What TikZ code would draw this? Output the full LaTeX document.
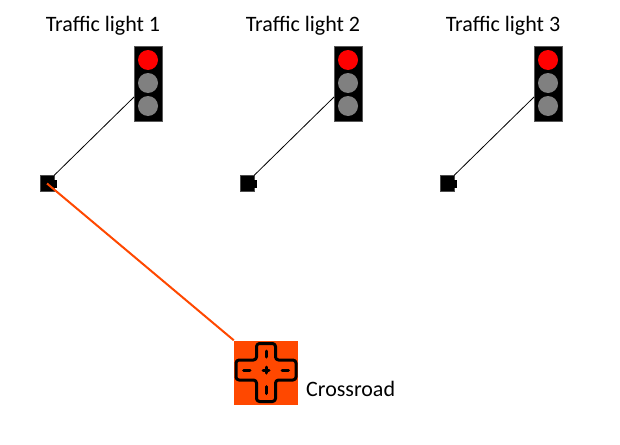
\documentclass[tikz,border=0pt]{standalone}
\usepackage{fontspec}
\setmainfont{Carlito}
\usetikzlibrary{calc}
\definecolor{crossorange}{RGB}{255,72,0}
\definecolor{lampgray}{RGB}{128,128,128}
\begin{document}
\begin{tikzpicture}[x=1pt,y=-1pt,
  title/.style={font=\fontsize{22}{24}\selectfont, inner sep=0pt, anchor=base},
  lightbox/.style={draw=gray!70!black, fill=black, line width=0.6pt, minimum width=28pt, minimum height=75pt, inner sep=0pt},
  lamp/.style={circle, minimum size=20pt, inner sep=0pt},
  sensor/.style={fill=black, draw=gray!60!black, line width=0.4pt, minimum width=14pt, minimum height=16pt, inner sep=0pt},
  wire/.style={black, line width=0.8pt},
  link/.style={crossorange, line width=2pt},
  crossicon/.style={fill=crossorange, minimum size=64pt, inner sep=0pt},
  crossline/.style={black, line width=3pt, line cap=round, line join=round}
]
\useasboundingbox (0,0) rectangle (620,444);

\foreach \i/\dx in {1/0,2/200,3/400}{
  \node[title] (t\i) at (103+\dx,31) {Traffic light \i};
  \node[lightbox] (tl\i) at (148+\dx,83.5) {};
  \node[lamp, fill=red] (r\i) at (148+\dx,60) {};
  \node[lamp, fill=lampgray] (ga\i) at (148+\dx,83) {};
  \node[lamp, fill=lampgray] (gb\i) at (148+\dx,106) {};
  \coordinate (w\i) at (134+\dx,97);
  \node[sensor] (s\i) at (47+\dx,183.5) {};
  \fill[black] ($(s\i.east)+(0,-4)$) rectangle ($(s\i.east)+(3,4)$);
  \draw[wire] (w\i) -- (s\i.north east);
}

\node[crossicon] (cr) at (266,372.5) {};
\draw[link] (s1.center) -- (cr.north west);
\node[title, anchor=base west] (crt) at (306,396) {Crossroad};

% cross shape
\begin{scope}[shift={(cr.center)}]
  \draw[crossline, rounded corners=3pt]
    (-9.5,-29) -- (9.5,-29) -- (9.5,-12.5) -- (30,-12.5) -- (30,7.5) -- (9.5,7.5)
    -- (9.5,29) -- (-9.5,29) -- (-9.5,7.5) -- (-30,7.5) -- (-30,-12.5) -- (-9.5,-12.5) -- cycle;
  \draw[crossline] (0,-21.5) -- (0,-15.5);
  \draw[crossline] (0,14) -- (0,21);
  \draw[crossline] (-22.5,-2.5) -- (-16,-2.5);
  \draw[crossline] (16,-2.5) -- (22.5,-2.5);
  \draw[crossline] (-3,-2.5) -- (3,-2.5);
  \draw[crossline] (0,-5.5) -- (0,0.5);
\end{scope}
\end{tikzpicture}
\end{document}
